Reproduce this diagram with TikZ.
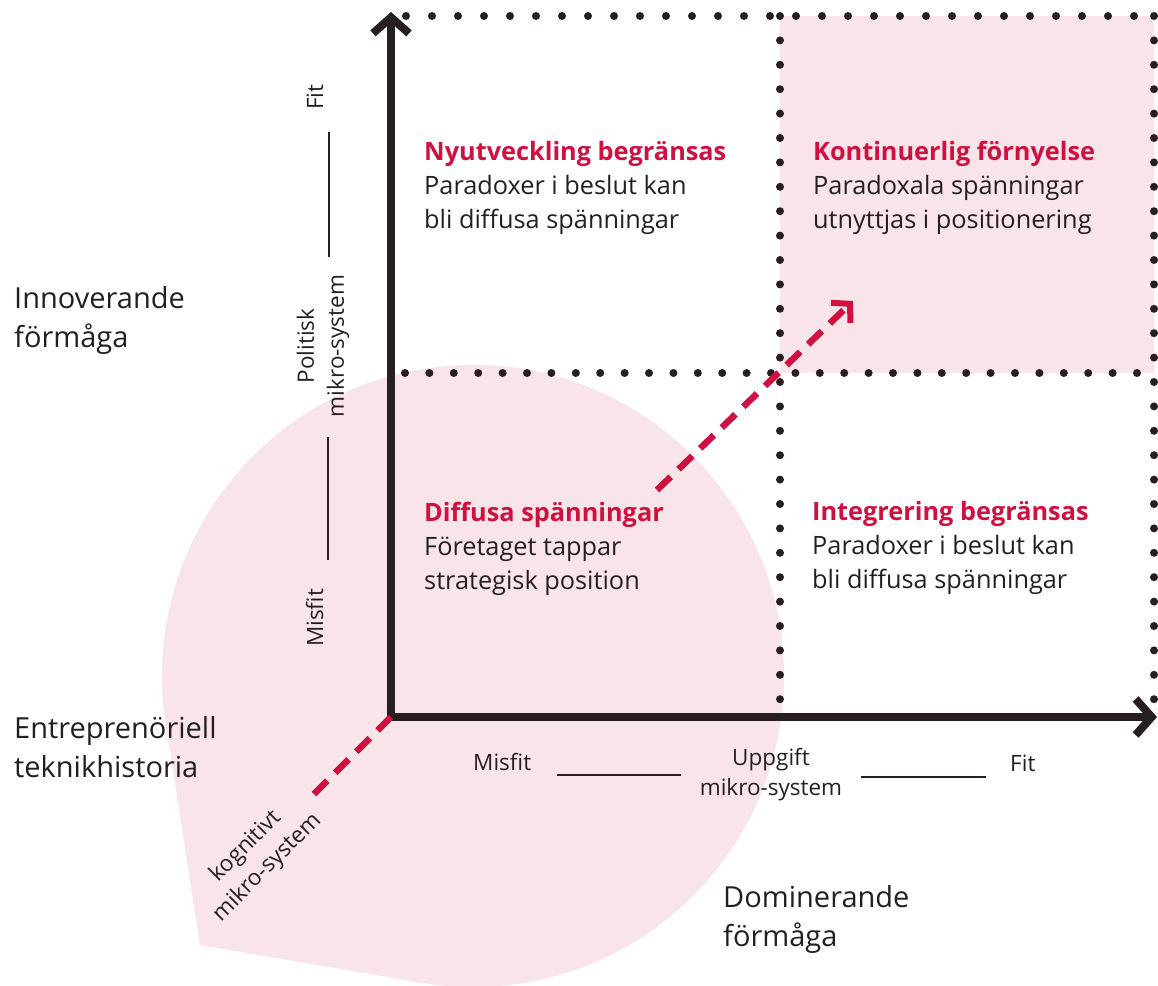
\documentclass[tikz,border=0pt]{standalone}
\usepackage{fontspec}
\setmainfont{Open Sans}
\usetikzlibrary{arrows.meta}

\definecolor{axisdark}{RGB}{38,30,33}
\definecolor{accentred}{RGB}{208,16,64}
\definecolor{blobpink}{RGB}{249,228,233}
\definecolor{textdark}{RGB}{35,31,32}

\begin{document}
\begin{tikzpicture}[x=1pt, y=-1pt,
        every node/.style={inner sep=0pt, text=textdark},
        axis/.style={draw=axisdark, line width=8pt},
        dotline/.style={draw=axisdark, line width=8pt, line cap=round, dash pattern=on 0pt off 24.4pt},
        trend/.style={draw=accentred, line width=6.5pt, dash pattern=on 19pt off 11pt},
        tick/.style={draw=textdark, line width=1.5pt},
        quadtext/.style={anchor=base west, align=left, font=\fontsize{25.3}{34}\selectfont},
        biglabel/.style={anchor=base west, align=left, font=\fontsize{29}{39}\selectfont},
        scalelabel/.style={font=\fontsize{22.5}{30}\selectfont}]
    \useasboundingbox (0, 0) rectangle (1158, 985);

    % Background
    \fill[blobpink] (780, 16) rectangle (1154, 373);
    \coordinate (blobc) at (473, 676);
    \coordinate (blobtip) at (200, 945);
    \fill[blobpink] (blobc) circle[radius=311pt];
    \fill[blobpink] (blobtip) -- (165.7, 723.6) -- (blobc) -- (421, 982.6) -- cycle;

    % Grid
    \draw[dotline, dash pattern=on 0pt off 26pt] (406, 16) -- (1160, 16);
    \draw[dotline] (405, 373) -- (1156, 373);
    \draw[dotline] (780, 16) -- (780, 705);
    \draw[dotline] (1154, 16) -- (1154, 705);

    % Axes
    \coordinate (origin) at (391, 717);
    \coordinate (ytip) at (391, 12);
    \coordinate (xtip) at (1157, 717);
    \draw[axis, {Straight Barb[length=16pt, width=36pt, line width=8pt]}-{Straight Barb[length=16pt, width=36pt, line width=8pt]}]
        (ytip) -- (origin) -- (xtip);

    % Trend
    \coordinate (zend) at (312, 796);
    \coordinate (trendstart) at (657, 490);
    \coordinate (trendend) at (853, 301);
    \draw[trend] (origin) -- (zend);
    \draw[trend, -{Straight Barb[length=13pt, width=28pt, line width=6pt]}] (trendstart) -- (trendend);

    % Nodes
    \node[quadtext] at (424, 228) (nyut) {{\bfseries\color{accentred}Nyutveckling begränsas}\\Paradoxer i beslut kan\\bli diffusa spänningar};
    \node[quadtext] at (813, 228) (kont) {{\bfseries\color{accentred}Kontinuerlig förnyelse}\\Paradoxala spänningar\\utnyttjas i positionering};
    \node[quadtext] at (424, 589) (diff) {{\bfseries\color{accentred}Diffusa spänningar}\\Företaget tappar\\strategisk position};
    \node[quadtext] at (812, 588) (integ) {{\bfseries\color{accentred}Integrering begränsas}\\Paradoxer i beslut kan\\bli diffusa spänningar};

    \node[biglabel] at (14, 347) (innov) {Innoverande\\förmåga};
    \node[biglabel] at (14, 777) (entre) {Entreprenöriell\\teknikhistoria};
    \node[biglabel] at (723, 946) (domin) {Dominerande\\förmåga};

    \node[scalelabel, anchor=base west] at (473, 770) (xmisfit) {Misfit};
    \node[scalelabel, anchor=base, align=center] at (771, 795) (uppg) {Uppgift\\mikro-system};
    \node[scalelabel, anchor=base west] at (1010, 771) (xfit) {Fit};
    \node[scalelabel, anchor=base west, rotate=90] at (323, 110) (yfit) {Fit};
    \node[scalelabel, align=center, rotate=90] at (323, 346) (polit) {Politisk\\mikro-system};
    \node[scalelabel, anchor=base west, rotate=90] at (323, 647) (ymisfit) {Misfit};
    \node[scalelabel, align=center, rotate=45] at (257, 857) (kogn) {kognitivt\\mikro-system};

    % Scale lines
    \coordinate (ya) at (329, 132);
    \coordinate (yb) at (329, 257);
    \coordinate (yc) at (328, 437);
    \coordinate (yd) at (328, 560);
    \coordinate (xa) at (557, 775);
    \coordinate (xb) at (681, 775);
    \coordinate (xc) at (861, 777);
    \coordinate (xd) at (986, 777);
    \draw[tick] (ya) -- (yb);
    \draw[tick] (yc) -- (yd);
    \draw[tick] (xa) -- (xb);
    \draw[tick] (xc) -- (xd);
\end{tikzpicture}
\end{document}
